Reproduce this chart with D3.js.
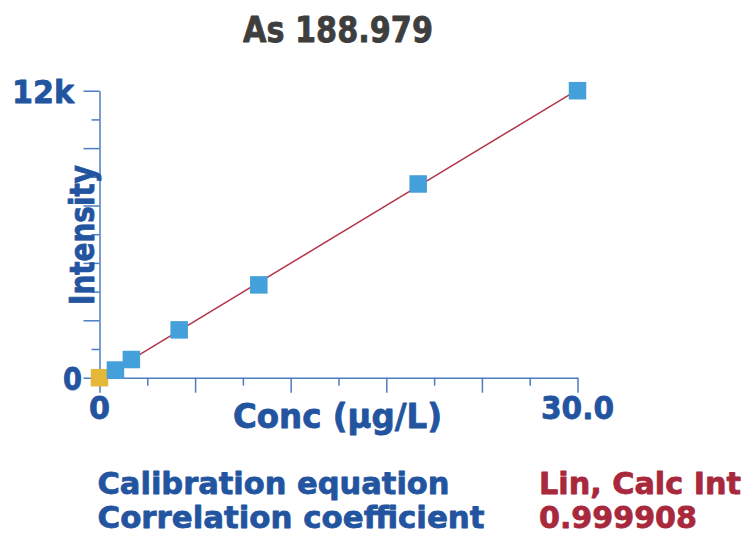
<!DOCTYPE html>
<html>
<head>
<meta charset="utf-8">
<script src="https://cdn.jsdelivr.net/npm/d3@7/dist/d3.min.js"></script>
<style>
  html, body { margin: 0; padding: 0; background: #fff; }
  svg { display: block; }
  text { font-family: "DejaVu Sans", Verdana, sans-serif; font-weight: bold; stroke-width: 0.8px; stroke-linejoin: round; }
</style>
</head>
<body>
<svg id="chart" width="750" height="542"></svg>
<script>
// Calibration standards for As 188.979 (first point is the blank)
const conc = [0, 1, 2, 5, 10, 20, 30];
const intensity = [0, 320, 760, 2000, 3880, 8100, 12000];
const pointRole = ["blank", "std", "std", "std", "std", "std", "std"];

const chartTitle = "As 188.979";
const xTitle = "Conc (µg/L)";
const yTitle = "Intensity";
const xTickLabels = [{ v: 0, t: "0" }, { v: 30, t: "30.0" }];
const yTickLabels = [{ v: 0, t: "0" }, { v: 12000, t: "12k" }];
const infoLabels = ["Calibration equation", "Correlation coefficient"];
const infoValues = ["Lin, Calc Int", "0.999908"];

const BLUE_TEXT = "#2354a0";
const AXIS = "#4c7cc1";
const RED = "#a8283c";

const svg = d3.select("#chart");

const x = d3.scaleLinear().domain([0, 30]).range([99.5, 577.5]);
const y = d3.scaleLinear().domain([0, 12000]).range([377.7, 90.7]);

// Least-squares line with calculated intercept
const mx = d3.mean(conc), my = d3.mean(intensity);
const sxy = d3.sum(conc, (c, i) => (c - mx) * (intensity[i] - my));
const sxx = d3.sum(conc, c => (c - mx) * (c - mx));
const slope = sxy / sxx;
const intercept = my - slope * mx;

// Title
svg.append("text")
  .attr("x", 243).attr("y", 41.5)
  .attr("font-size", 35)
  .attr("fill", "#3e3e3e").attr("stroke", "#3e3e3e")
  .attr("textLength", 190).attr("lengthAdjust", "spacingAndGlyphs")
  .text(chartTitle);

// X axis: long ticks every 6, short ticks in between
const xMajor = d3.range(0, 31, 6);
const xMinor = d3.range(3, 31, 6);
const gx = svg.append("g").attr("transform", `translate(0,${y(0)})`);
gx.call(d3.axisBottom(x).tickValues(xMajor).tickSize(15).tickSizeOuter(0).tickFormat(""));
const gx2 = svg.append("g").attr("transform", `translate(0,${y(0)})`);
gx2.call(d3.axisBottom(x).tickValues(xMinor).tickSize(8).tickSizeOuter(0).tickFormat(""));
gx2.select(".domain").remove();

// Y axis: long ticks every 2400, short ticks in between
const yMajor = d3.range(0, 12001, 2400);
const yMinor = d3.range(1200, 12000, 2400);
const gy = svg.append("g").attr("transform", `translate(${x(0)},0)`);
gy.call(d3.axisLeft(y).tickValues(yMajor).tickSize(16).tickSizeOuter(0).tickFormat(""));
const gy2 = svg.append("g").attr("transform", `translate(${x(0)},0)`);
gy2.call(d3.axisLeft(y).tickValues(yMinor).tickSize(8).tickSizeOuter(0).tickFormat(""));
gy2.select(".domain").remove();

svg.selectAll(".domain, .tick line")
  .attr("stroke", AXIS).attr("stroke-width", 1.5);

// Tick labels
svg.append("g").selectAll("text").data(xTickLabels).join("text")
  .attr("x", d => x(d.v)).attr("y", 419)
  .attr("text-anchor", "middle")
  .attr("font-size", 32)
  .attr("fill", BLUE_TEXT).attr("stroke", BLUE_TEXT)
  .attr("textLength", d => d.t.length > 1 ? 73 : 21)
  .attr("lengthAdjust", "spacingAndGlyphs")
  .text(d => d.t);

svg.append("g").selectAll("text").data(yTickLabels).join("text")
  .attr("x", d => x(0) - (d.v === 0 ? 17.5 : 25.5))
  .attr("y", d => y(d.v) + 12.5)
  .attr("text-anchor", "end")
  .attr("font-size", 32)
  .attr("fill", BLUE_TEXT).attr("stroke", BLUE_TEXT)
  .attr("textLength", d => d.t.length > 1 ? 62 : 19)
  .attr("lengthAdjust", "spacingAndGlyphs")
  .text(d => d.t);

// Axis titles
svg.append("text")
  .attr("x", 233).attr("y", 427.5)
  .attr("font-size", 33)
  .attr("fill", BLUE_TEXT).attr("stroke", BLUE_TEXT)
  .attr("textLength", 209).attr("lengthAdjust", "spacingAndGlyphs")
  .text(xTitle);

svg.append("text")
  .attr("transform", "translate(93.5,305) rotate(-90)")
  .attr("font-size", 33)
  .attr("fill", BLUE_TEXT).attr("stroke", BLUE_TEXT)
  .attr("textLength", 140).attr("lengthAdjust", "spacingAndGlyphs")
  .text(yTitle);

// Fit line
svg.append("line")
  .attr("x1", x(0)).attr("y1", y(intercept))
  .attr("x2", x(30)).attr("y2", y(intercept + slope * 30))
  .attr("stroke", "#b4344a").attr("stroke-width", 1.5);

// Standards
const S = 17.5;
svg.append("g").selectAll("rect").data(conc.map((c, i) => ({ c, v: intensity[i], r: pointRole[i] })))
  .join("rect")
  .attr("x", d => x(d.c) - S / 2)
  .attr("y", d => y(d.v) - S / 2)
  .attr("width", S).attr("height", S)
  .attr("fill", d => d.r === "blank" ? "#e6b83a" : "#43a0da");

// Calibration summary
const infoWidths = [352, 387];
const valueWidths = [202, 158];
svg.append("g").selectAll("text").data(infoLabels).join("text")
  .attr("x", 97.5).attr("y", (d, i) => 494 + i * 33.5)
  .attr("font-size", 31)
  .attr("fill", BLUE_TEXT).attr("stroke", BLUE_TEXT)
  .attr("textLength", (d, i) => infoWidths[i]).attr("lengthAdjust", "spacingAndGlyphs")
  .text(d => d);

svg.append("g").selectAll("text").data(infoValues).join("text")
  .attr("x", 539).attr("y", (d, i) => 494 + i * 33.5)
  .attr("font-size", 31)
  .attr("fill", RED).attr("stroke", RED)
  .attr("textLength", (d, i) => valueWidths[i]).attr("lengthAdjust", "spacingAndGlyphs")
  .text(d => d);
</script>
</body>
</html>
